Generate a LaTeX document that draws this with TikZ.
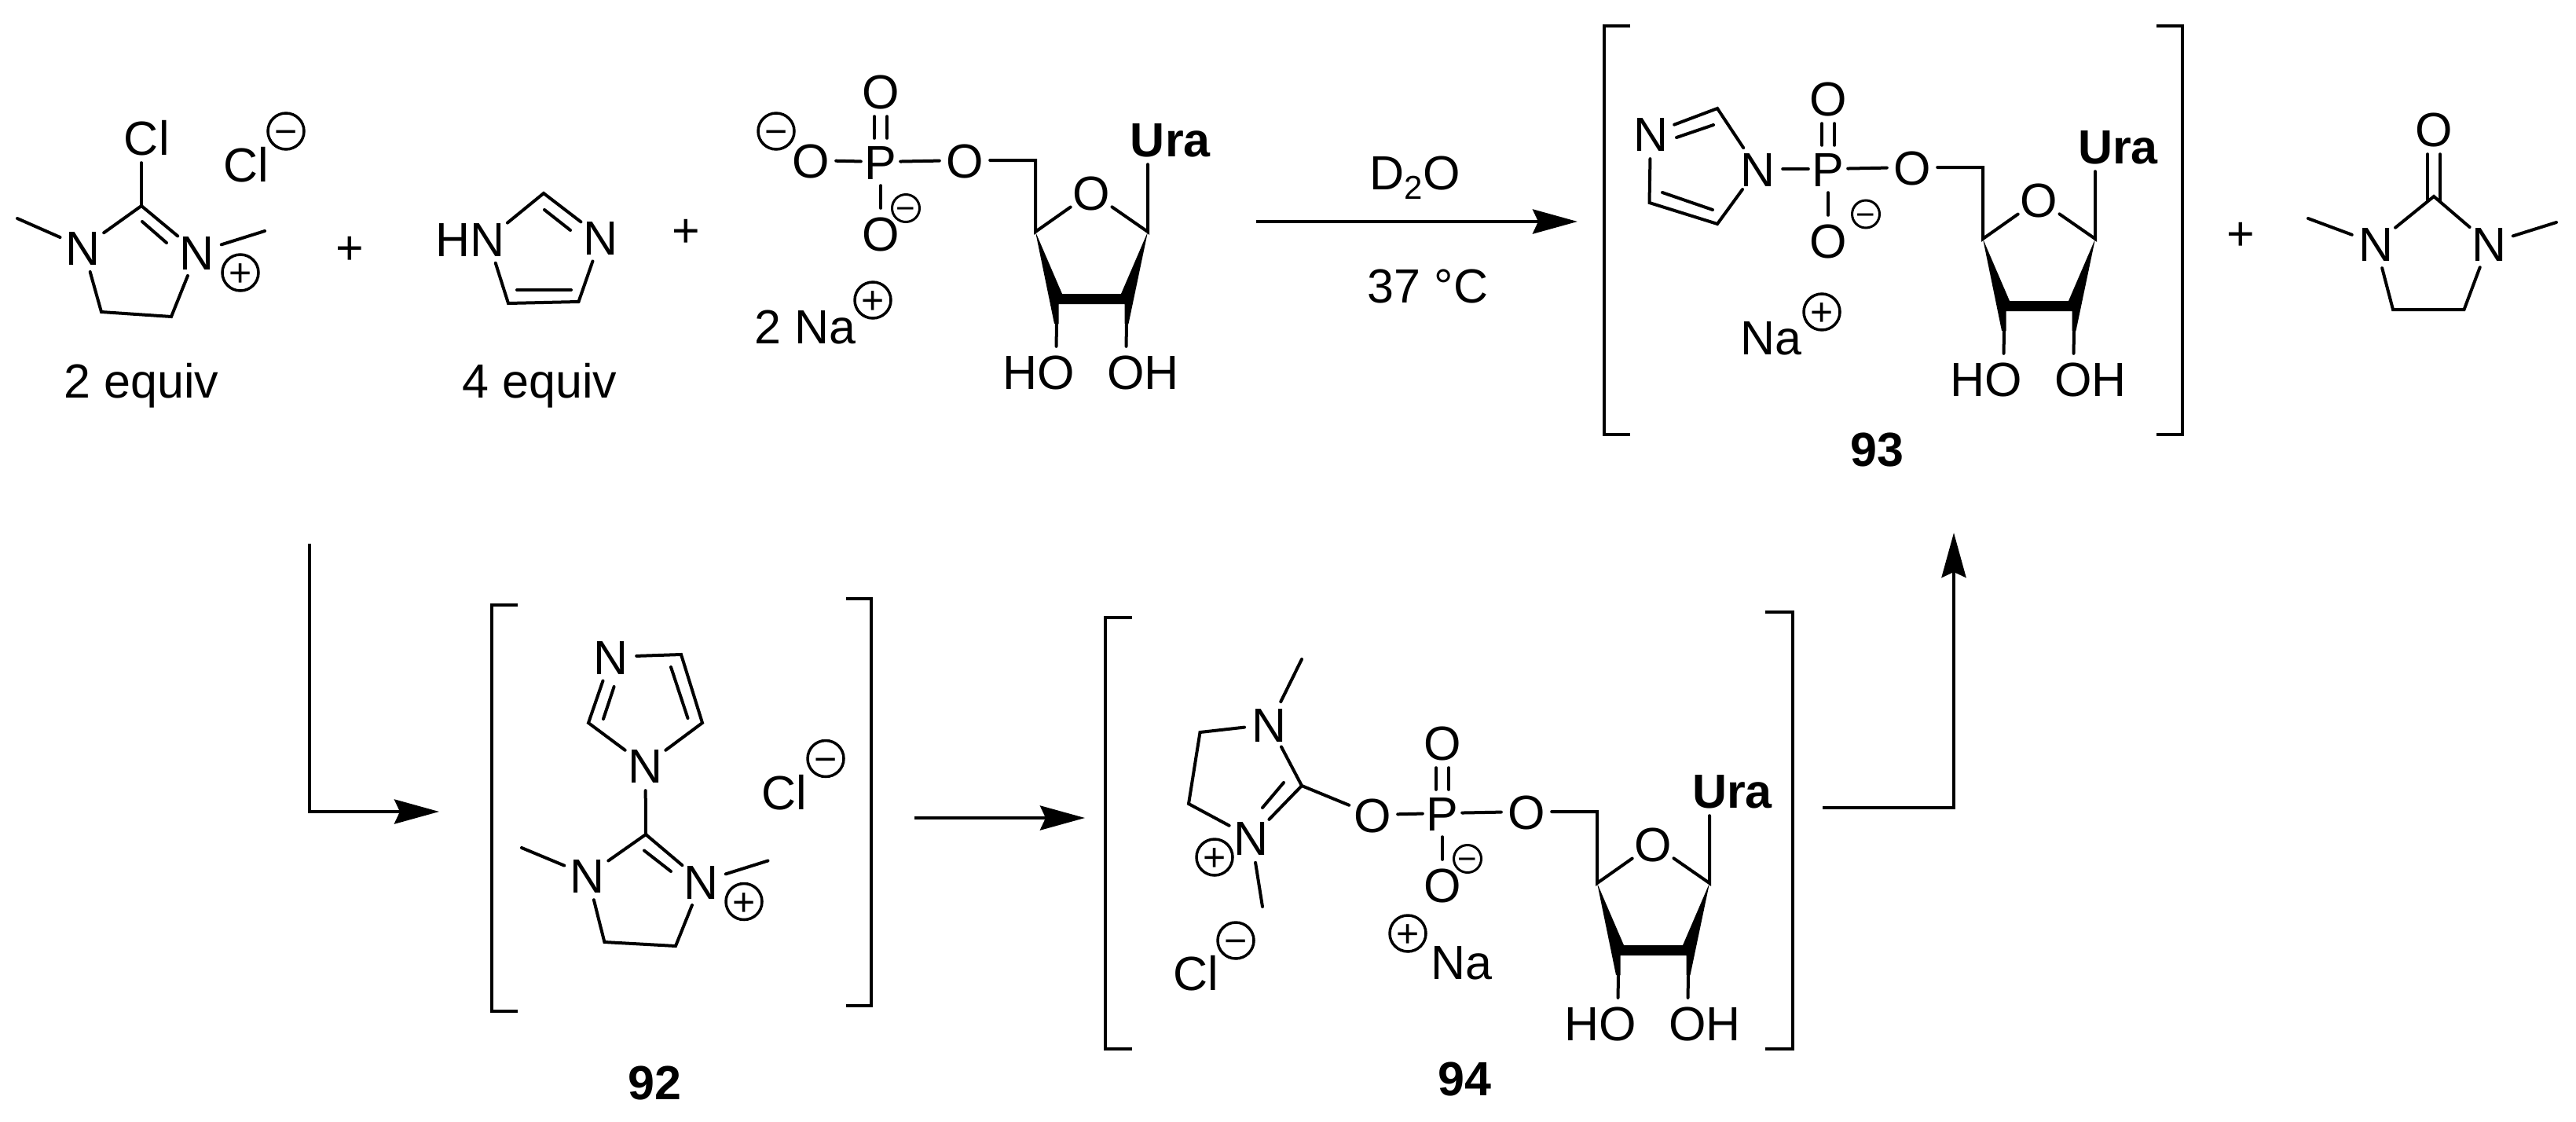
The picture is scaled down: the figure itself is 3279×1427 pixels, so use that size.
\documentclass[tikz,border=0pt]{standalone}
\usepackage{fontspec}
\setmainfont{Liberation Sans}
\usetikzlibrary{arrows.meta}
\newcommand\chemfont{\fontsize{61}{70}\selectfont}
\tikzset{
  bond/.style={line width=4pt,line cap=round,line join=miter},
  bracketline/.style={line width=4pt,line cap=butt,line join=miter},
  rxn/.style={line width=4.5pt,line join=miter,-{Stealth[length=57pt,width=31pt,inset=7pt]}},
  atom/.style={circle,inner sep=0pt,minimum size=64pt,font=\chemfont},
  patom/.style={rectangle,inner sep=0pt,minimum width=50pt,minimum height=60pt,font=\chemfont},
  lbl/.style={inner sep=0pt,font=\chemfont,anchor=base},
  chgbig/.style={circle,draw,line width=3.5pt,inner sep=0pt,minimum size=46pt,font=\fontsize{50}{50}\selectfont},
  chgsmall/.style={circle,draw,line width=3pt,inner sep=0pt,minimum size=35pt,font=\fontsize{42}{42}\selectfont}
}
\newcommand\atomtext[1]{\makebox[0pt][c]{\raisebox{-22pt}[0pt][0pt]{#1}}}
\newcommand\atm[4]{\node[atom] (#1) at (#2,#3) {\atomtext{#4}};}
\newcommand\pat[3]{\node[patom] (#1) at (#2,#3) {\atomtext{P}};}
\newcommand\chgtext[1]{\makebox[0pt][c]{\raisebox{-.35em}[0pt][0pt]{#1}}}
\newcommand\chgb[4]{\node[chgbig] (#1) at (#2,#3) {\chgtext{#4}};}
\newcommand\chgs[4]{\node[chgsmall] (#1) at (#2,#3) {\chgtext{#4}};}
\newcommand\vx[3]{\coordinate (#1) at (#2,#3);}
\newcommand\innerline[5]{\coordinate (#1a) at (#2,#3);\coordinate (#1b) at (#4,#5);\draw[bond] (#1a) -- (#1b);}
\newcommand\brk[5]{%
  \coordinate (#1t) at (#2,#4);\coordinate (#1u) at (#3,#4);
  \coordinate (#1v) at (#3,#5);\coordinate (#1w) at (#2,#5);
  \draw[bracketline] (#1t) -- (#1u) -- (#1v) -- (#1w);}
\newcommand\ribose[3]{%
  \begin{scope}[shift={(#2,#3)}]
    \vx{#1CA}{0}{0}\vx{#1CB}{143}{0}\vx{#1CH}{0}{-91}
    \vx{#1SA}{27}{117}\vx{#1SB}{116}{117}
    \atm{#1Or}{71}{-50}{O}
    \atm{#1Ura}{143}{-118}{\bfseries U\rlap{ra}}
    \atm{#1HO}{26}{178}{\llap{H}O}
    \atm{#1OH}{115}{178}{O\rlap{H}}
    \atm{#1Oe}{-90}{-91}{O}
    \pat{#1P}{-197}{-89}
    \atm{#1Ot}{-197}{-179}{O}
    \atm{#1Ob}{-197}{2}{O}
    \fill (0,0) -- (24,117) -- (29.5,117) -- (29.5,92) -- (113.5,92) -- (113.5,117)
      -- (118.5,117) -- (143,0) -- (109,79) -- (34,79) -- cycle;
    \draw[bond] (#1Oe) -- (#1CH) -- (#1CA) -- (#1Or);
    \draw[bond] (#1Or) -- (#1CB) -- (#1Ura);
    \draw[bond] (#1SA) -- (#1HO);
    \draw[bond] (#1SB) -- (#1OH);
    \draw[bond] (#1P) -- (#1Oe);
    \draw[bond] (#1P) -- (#1Ob);
    \draw[bond] ([xshift=-8pt]#1Ot.south) -- ([xshift=-8pt]#1P.north);
    \draw[bond] ([xshift=8pt]#1Ot.south) -- ([xshift=8pt]#1P.north);
  \end{scope}}
\begin{document}
\begin{tikzpicture}[x=1pt,y=-1pt]
\useasboundingbox (0,0) rectangle (3279,1427);
% --- chloroimidazolinium
\atm{aCl}{180}{175}{C\rlap{l}}
\atm{aNa}{106}{315}{N}
\atm{aNb}{251}{321}{N}
\vx{aC}{180}{262}\vx{aMa}{22}{278}\vx{aMb}{337}{294}\vx{aCa}{129}{397}\vx{aCb}{218}{403}
\draw[bond] (aCl) -- (aC);
\draw[bond] (aNa) -- (aC) -- (aNb);
\innerline{aD}{181}{282}{212}{309}
\draw[bond] (aMa) -- (aNa);
\draw[bond] (aMb) -- (aNb);
\draw[bond] (aNa) -- (aCa) -- (aCb) -- (aNb);
\chgb{aPl}{306}{347}{+}
\node[lbl] (aCli) at (313,231) {Cl};
\chgb{aMi}{364}{167}{−}
\node[lbl] (plusa) at (445,336) {+};
\node[lbl] (eqa) at (180,506) {2 equiv};
% --- imidazole
\atm{bNa}{621}{304}{\llap{H}N}
\atm{bNb}{765}{302}{N}
\vx{bC}{692}{246}\vx{bCa}{647}{386}\vx{bCb}{736.5}{384}
\draw[bond] (bNa) -- (bC) -- (bNb);
\draw[bond] (bNa) -- (bCa) -- (bCb) -- (bNb);
\innerline{bD}{693}{267}{726}{293}
\innerline{bE}{658}{369}{727}{369}
\node[lbl] (eqb) at (687,506) {4 equiv};
\node[lbl] (plusb) at (873,314) {+};
% --- UMP
\ribose{c}{1318}{295}
\atm{cOl}{1032}{204}{O}
\draw[bond] (cOl) -- (cP);
\chgb{cMi}{988}{167}{−}
\chgs{cMj}{1153}{265}{−}
\node[lbl,anchor=base west] (cNa) at (960,437) {2 Na};
\chgb{cPl}{1111}{382}{+}
% --- reaction arrow
\vx{ra}{1599}{282}\vx{rb}{2008}{282}
\draw[rxn] (ra) -- (rb);
\node[lbl] (dto) at (1801,241) {D\raisebox{-12pt}{\fontsize{42}{42}\selectfont 2}O};
\node[lbl] (temp) at (1817.5,385) {37 °C};
% --- 93
\brk{dL}{2075}{2042}{33}{553}
\brk{dR}{2745}{2778}{33}{553}
\ribose{d}{2524}{304}
\atm{dNa}{2101}{170}{N}
\atm{dNb}{2237}{215}{N}
\vx{dC}{2186}{138}\vx{dCa}{2186}{285}\vx{dCb}{2099.5}{258}
\draw[bond] (dNa) -- (dC) -- (dNb) -- (dCa) -- (dCb) -- (dNa);
\innerline{dD}{2134}{175}{2181}{159}
\innerline{dE}{2116}{245}{2180}{267}
\draw[bond] (dNb) -- (dP);
\chgs{dMi}{2375}{272.5}{−}
\node[lbl,anchor=base west] (dNi) at (2215,451.5) {Na};
\chgb{dPl}{2319}{397}{+}
\node[lbl,font=\chemfont\bfseries] (dNum) at (2389,593) {93};
% --- urea
\node[lbl] (plusc) at (2852,318) {+};
\atm{uNa}{3024}{310}{N}
\atm{uNb}{3168}{310}{N}
\atm{uO}{3098}{164}{O}
\vx{uC}{3098}{250}\vx{uMa}{2938}{278}\vx{uMb}{3254}{283}\vx{uCa}{3046}{394}\vx{uCb}{3136.5}{394}
\vx{uDa}{3090}{255}\vx{uDb}{3106}{255}
\draw[bond] ([xshift=-8pt]uO.south) -- (uDa);
\draw[bond] ([xshift=8pt]uO.south) -- (uDb);
\draw[bond] (uNa) -- (uC) -- (uNb);
\draw[bond] (uNa) -- (uCa) -- (uCb) -- (uNb);
\draw[bond] (uMa) -- (uNa);
\draw[bond] (uMb) -- (uNb);
% --- elbow to 92
\vx{ea}{394}{692}\vx{eb}{394}{1033}\vx{ec}{559}{1033}
\draw[rxn] (ea) -- (eb) -- (ec);
% --- 92
\brk{fL}{659}{625.5}{769.5}{1287}
\brk{fR}{1076.5}{1109}{762}{1280}
\atm{fNt}{778}{836}{N}
\atm{fNm}{821.5}{974}{N}
\atm{fNa}{748}{1114}{N}
\atm{fNb}{893}{1122}{N}
\vx{fC}{867}{833}\vx{fCa}{894}{920}\vx{fCb}{749}{920}\vx{fCc}{822}{1062}
\vx{fCd}{769.4}{1199}\vx{fCe}{860}{1204}\vx{fMa}{664}{1079}\vx{fMb}{977.5}{1095.5}
\draw[bond] (fNt) -- (fC) -- (fCa) -- (fNm) -- (fCb) -- (fNt);
\innerline{fD}{854}{849}{875.5}{914}
\innerline{fE}{781.6}{874}{768}{915}
\draw[bond] (fNm) -- (fCc);
\draw[bond] (fNa) -- (fCc) -- (fNb);
\innerline{fF}{820}{1082.5}{854}{1109}
\draw[bond] (fNa) -- (fCd) -- (fCe) -- (fNb);
\draw[bond] (fMa) -- (fNa);
\draw[bond] (fMb) -- (fNb);
\chgb{fPl}{947}{1147.5}{+}
\node[lbl] (fCli) at (998,1030) {Cl};
\chgb{fMi}{1051}{965.5}{−}
\node[lbl,font=\chemfont\bfseries] (fNum) at (833,1399) {92};
% --- arrow 92 to 94
\vx{ga}{1164}{1041}\vx{gb}{1381}{1041}
\draw[rxn] (ga) -- (gb);
% --- 94
\brk{hL}{1441}{1407}{786}{1335}
\brk{hR}{2247}{2282}{779}{1335}
\ribose{e}{2033}{1124}
\atm{eOl}{1747}{1037}{O}
\draw[bond] (eOl) -- (eP);
\atm{eNa}{1616}{922}{N}
\atm{eNb}{1593}{1066}{N}
\vx{eC}{1657}{1000}\vx{eCa}{1527.5}{932}\vx{eCb}{1513}{1023}\vx{eMa}{1657}{839}\vx{eMb}{1607}{1154}
\draw[bond] (eNa) -- (eC) -- (eNb) -- (eCb) -- (eCa) -- (eNa);
\innerline{eD}{1634}{996}{1607}{1028}
\draw[bond] (eC) -- (eOl);
\draw[bond] (eMa) -- (eNa);
\draw[bond] (eMb) -- (eNb);
\chgb{ePl}{1546}{1091}{+}
\node[lbl] (eCli) at (1522,1260) {Cl};
\chgb{eMi}{1573}{1197}{−}
\chgs{eMj}{1868}{1093}{−}
\chgb{ePm}{1792}{1188}{+}
\node[lbl,anchor=base west] (eNi) at (1821,1246) {Na};
\node[lbl,font=\chemfont\bfseries] (eNum) at (1864,1394) {94};
% --- arrow 94 to 93
\vx{ia}{2320}{1028}\vx{ib}{2487}{1028}\vx{ic}{2487}{678}
\draw[rxn] (ia) -- (ib) -- (ic);
\end{tikzpicture}
\end{document}
